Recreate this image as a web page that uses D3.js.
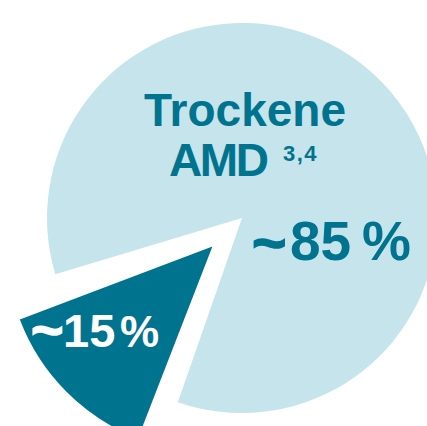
<!DOCTYPE html>
<html>
<head>
<meta charset="utf-8">
<script src="https://cdn.jsdelivr.net/npm/d3@7"></script>
<style>
  html, body { margin: 0; padding: 0; background: #fff; }
  svg { display: block; }
</style>
</head>
<body>
<script>
'use strict';

var categories = ["Trockene AMD", "Feuchte AMD"];
var shares = [85, 15];
var shareLabels = ["~85", "~15"];

var width = 427, height = 426;
var cx = 242, cy = 218;
var radius = 195;
var deg = Math.PI / 180;

var colors = d3.scaleOrdinal()
  .domain(categories)
  .range(["#c6e4ec", "#00738f"]);

var svg = d3.select("body").append("svg")
  .attr("width", width)
  .attr("height", height);

var pie = d3.pie()
  .sort(null)
  .startAngle(253.2 * deg)
  .endAngle(253.2 * deg + 2 * Math.PI);

var slices = pie(shares);

var mainArc = d3.arc().innerRadius(0).outerRadius(radius);
var bigArc = d3.arc().innerRadius(0).outerRadius(206);

// large slice
svg.append("path")
  .attr("transform", "translate(" + cx + "," + cy + ")")
  .attr("d", mainArc(slices[0]))
  .attr("fill", colors(categories[0]));

// small slice, pulled out
var s = slices[1];
var mid = (s.startAngle + s.endAngle) / 2;
var pull = 41;
var dx = Math.sin(mid) * pull, dy = -Math.cos(mid) * pull;
svg.append("path")
  .attr("transform", "translate(" + (cx + dx) + "," + (cy + dy) + ")")
  .attr("d", bigArc({startAngle: s.startAngle + 2 * deg, endAngle: s.endAngle - 4 * deg}))
  .attr("fill", colors(categories[1]));

var font = "'Liberation Sans', Arial, sans-serif";
var dark = colors(categories[1]);

function label(x, y, size, fill) {
  return svg.append("text")
    .attr("font-family", font)
    .attr("font-weight", "bold")
    .attr("fill", fill)
    .attr("font-size", size)
    .attr("x", x).attr("y", y);
}

label(245, 126, 46, dark).attr("text-anchor", "middle").text("Trockene");
label(169, 176, 46, dark).attr("textLength", 100).text("AMD");
label(283, 161, 22, dark).attr("letter-spacing", 1.5).text("3,4");

// ~85 %
label(252, 263, 59, dark)
  .attr("stroke", dark).attr("stroke-width", 1.5)
  .text(shareLabels[0].charAt(0));
label(290, 260, 55, dark).text(shareLabels[0].slice(1));
label(362, 260, 55, dark).text("%");

// ~15 %
label(31, 349, 56, "#fff")
  .attr("stroke", "#fff").attr("stroke-width", 1.5)
  .text(shareLabels[1].charAt(0));
label(63, 347, 47, "#fff").text(shareLabels[1].slice(1));
label(120, 347, 44, "#fff").text("%");
</script>
</body>
</html>
